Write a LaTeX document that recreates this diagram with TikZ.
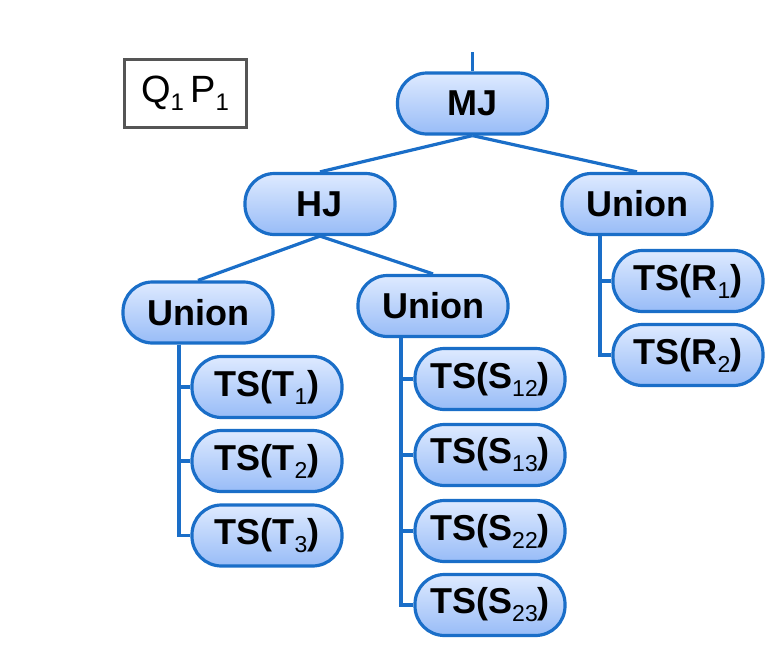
\documentclass[tikz,border=0pt]{standalone}
\usepackage{fontspec}
\setmainfont{Liberation Sans}
\definecolor{nodeborder}{RGB}{26,110,200}
\definecolor{nodetop}{RGB}{222,234,255}
\definecolor{nodebot}{RGB}{152,188,247}
\definecolor{qgray}{RGB}{85,85,85}
\newcommand\sub[1]{\raisebox{-0.22em}{\fontsize{23}{23}\selectfont\mdseries #1}}
\newcommand\qsub[1]{\raisebox{-0.2em}{\fontsize{24}{24}\selectfont #1}}
\begin{document}
\begin{tikzpicture}[x=1pt,y=-1pt,
  opnode/.style={draw=nodeborder, line width=3.2pt, rounded corners=29.5pt,
    minimum width=150pt, minimum height=61pt, top color=nodetop, bottom color=nodebot,
    font=\fontsize{36}{40}\selectfont\bfseries, inner sep=0pt},
  link/.style={draw=nodeborder, line width=3.2pt},
  qbox/.style={draw=qgray, line width=3pt, minimum width=122pt, minimum height=68pt,
    inner sep=0pt, font=\fontsize{38}{40}\selectfont}]
\useasboundingbox (0,0) rectangle (782,667);
\node[qbox] (q) at (185,93) {Q\qsub{1}\,P\qsub{1}};
\node[opnode] (mj) at (472.5,103.5) {MJ};
\node[opnode] (hj) at (320,204) {HJ};
\node[opnode] (ur) at (637,204) {Union};
\node[opnode] (ul) at (198,312.5) {Union};
\node[opnode] (um) at (433,306) {Union};
\node[opnode] (r1) at (688,281) {TS(R\sub{1})};
\node[opnode] (r2) at (688,355) {TS(R\sub{2})};
\node[opnode] (t1) at (267,387) {TS(T\sub{1})};
\node[opnode] (t2) at (267,461) {TS(T\sub{2})};
\node[opnode] (t3) at (267,535.5) {TS(T\sub{3})};
\node[opnode] (s12) at (490,379) {TS(S\sub{12})};
\node[opnode] (s13) at (490,455) {TS(S\sub{13})};
\node[opnode] (s22) at (490,531) {TS(S\sub{22})};
\node[opnode] (s23) at (490,605) {TS(S\sub{23})};
\coordinate (top) at (472.5,52);
\draw[link] (top) -- (mj.north);
\draw[link] (mj.south) -- (hj.north);
\draw[link] (mj.south) -- (ur.north);
\draw[link] (hj.south) -- (ul.north);
\draw[link] (hj.south) -- (um.north);
\foreach \n in {t1,t2,t3} \draw[link] ([xshift=-19pt]ul.south) |- (\n.west);
\foreach \n in {s12,s13,s22,s23} \draw[link] ([xshift=-32pt]um.south) |- (\n.west);
\foreach \n in {r1,r2} \draw[link] ([xshift=-37pt]ur.south) |- (\n.west);
\end{tikzpicture}
\end{document}
